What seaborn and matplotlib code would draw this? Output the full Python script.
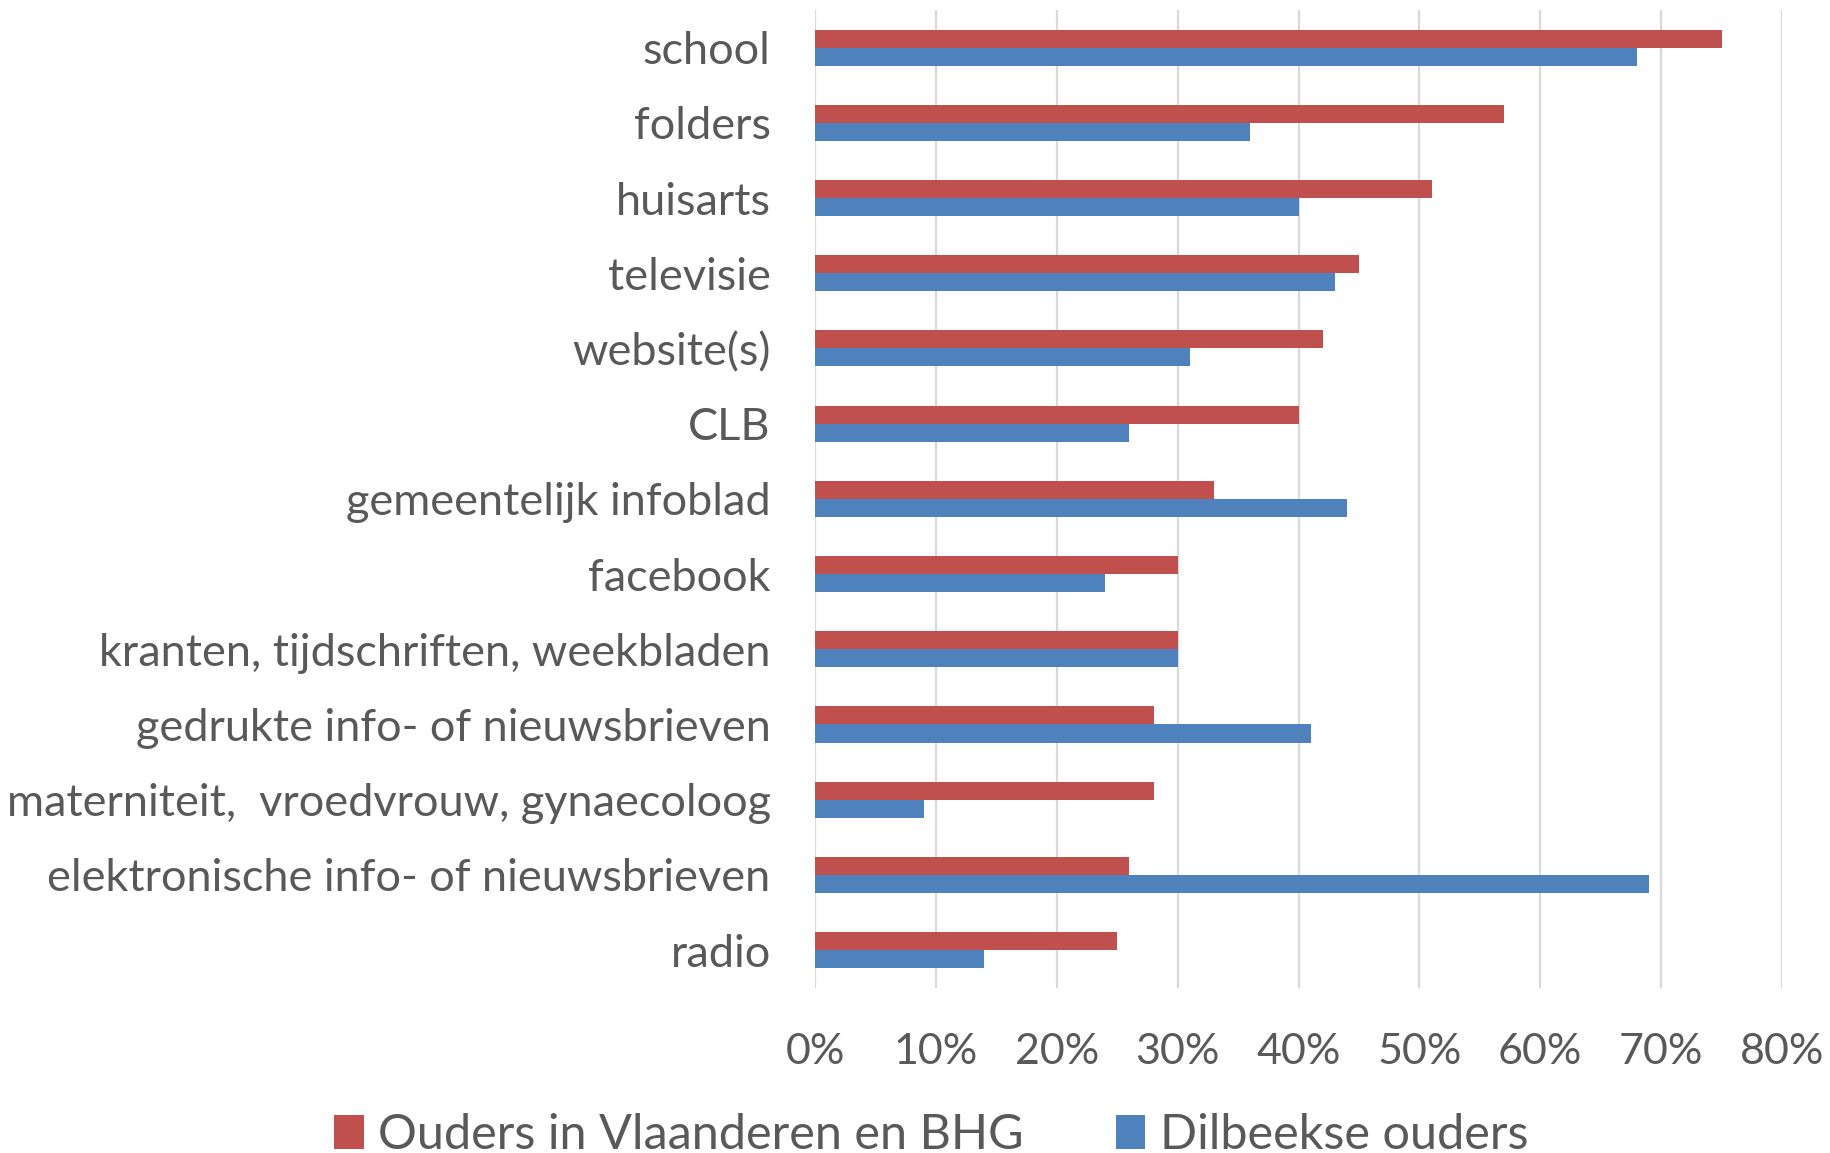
import matplotlib
matplotlib.use("Agg")
import matplotlib.pyplot as plt
import seaborn as sns
import pandas as pd
from matplotlib.ticker import FuncFormatter
from matplotlib.patches import Patch

categories = ["school", "folders", "huisarts", "televisie", "website(s)", "CLB",
              "gemeentelijk infoblad", "facebook", "kranten, tijdschriften, weekbladen",
              "gedrukte info- of nieuwsbrieven", "materniteit,  vroedvrouw, gynaecoloog",
              "elektronische info- of nieuwsbrieven", "radio"]
series_names = ["Ouders in Vlaanderen en BHG", "Dilbeekse ouders"]
vlaanderen = [75, 57, 51, 45, 42, 40, 33, 30, 30, 28, 28, 26, 25]
dilbeek = [68, 36, 40, 43, 31, 26, 44, 24, 30, 41, 9, 69, 14]
xticks = [0, 10, 20, 30, 40, 50, 60, 70, 80]

RED = "#C0504D"
BLUE = "#4F81BD"
TXT = "#595959"
GRID = "#D9D9D9"

df = pd.DataFrame({
    "categorie": categories * 2,
    "reeks": [series_names[0]] * len(categories) + [series_names[1]] * len(categories),
    "waarde": vlaanderen + dilbeek,
})

sns.set_theme(style="white")
plt.rcParams["font.family"] = ["Lato", "DejaVu Sans"]

fig = plt.figure(figsize=(18.3, 11.53), dpi=100)
ax = fig.add_axes([0.4454, 0.1434, 0.9738 - 0.4454, 0.9913 - 0.1434])

sns.barplot(data=df, y="categorie", x="waarde", hue="reeks", order=categories,
            hue_order=series_names, palette=[RED, BLUE], width=0.48,
            orient="h", errorbar=None, ax=ax, linewidth=0, saturation=1)

ax.set_xlim(0, 80)
ax.set_xticks(xticks)
ax.xaxis.set_major_formatter(FuncFormatter(lambda v, p: f"{v:.0f}%"))
ax.grid(axis="x", color=GRID, linewidth=1.6)
ax.grid(axis="y", visible=False)
ax.set_axisbelow(True)
for s in ax.spines.values():
    s.set_visible(False)
ax.set_xlabel("")
ax.set_ylabel("")
ax.tick_params(axis="both", length=0, labelcolor=TXT)
ax.tick_params(axis="y", pad=32, labelsize=32.5)
ax.tick_params(axis="x", pad=33, labelsize=31)

if ax.get_legend() is not None:
    ax.get_legend().remove()
handles = [Patch(facecolor=RED, edgecolor="none"), Patch(facecolor=BLUE, edgecolor="none")]
fig.legend(handles, series_names, loc="center", bbox_to_anchor=(0.509, 0.016),
           ncol=2, frameon=False, fontsize=35, labelcolor=TXT,
           handlelength=0.6, handleheight=0.7, handletextpad=0.3, columnspacing=1.9)

fig.savefig("out.png", dpi=100)
